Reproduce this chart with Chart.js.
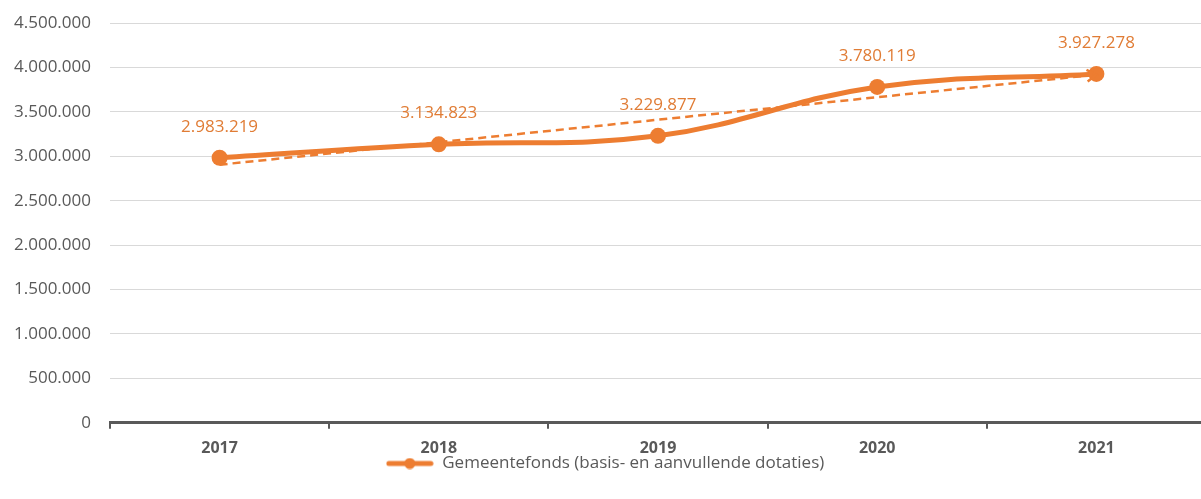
<!DOCTYPE html>
<html>
<head>
<meta charset="utf-8">
<script src="https://cdn.jsdelivr.net/npm/chart.js@4.4.1/dist/chart.umd.min.js"></script>
<style>
  html, body { margin: 0; padding: 0; background: #fff; overflow: hidden; }
  #wrap { position: relative; width: 1214px; height: 499px; }
</style>
</head>
<body>
<div id="wrap"><canvas id="myChart"></canvas></div>
<script>
// gegevens uit de grafiek
const jaren = ['2017', '2018', '2019', '2020', '2021'];
const gemeentefonds = [2983219, 3134823, 3229877, 3780119, 3927278];
const trendlijn = [2905000, null, null, null, 3918000];
const yTicks = [0, 500000, 1000000, 1500000, 2000000, 2500000, 3000000, 3500000, 4000000, 4500000];

const oranje = '#ED7D31';
const grijs = '#595959';
const lettertype = "'Open Sans', 'Liberation Sans', sans-serif";

function nlGetal(v) {
  return String(v).replace(/\B(?=(\d{3})+(?!\d))/g, '.');
}

// legenda-symbool: lijn met bolletje
const legendIcon = document.createElement('canvas');
legendIcon.width = 48; legendIcon.height = 12;
(function () {
  const c = legendIcon.getContext('2d');
  c.strokeStyle = oranje; c.lineWidth = 5; c.lineCap = 'round';
  c.beginPath(); c.moveTo(3, 6); c.lineTo(45, 6); c.stroke();
  c.fillStyle = oranje;
  c.beginPath(); c.arc(24, 6, 5.5, 0, Math.PI * 2); c.fill();
})();

// labels boven de punten + pijlpunt aan het eind van de trendlijn
const extraPlugin = {
  id: 'extra',
  afterLayout(chart) {
    // legenda iets dichter bij de as
    chart.legend.top -= 16;
    chart.legend.bottom -= 16;
  },
  afterDatasetsDraw(chart) {
    const ctx = chart.ctx;
    const meta = chart.getDatasetMeta(0);
    ctx.save();
    ctx.font = '17px ' + lettertype;
    ctx.fillStyle = '#E07C35';
    ctx.textAlign = 'center';
    ctx.textBaseline = 'middle';
    meta.data.forEach(function (pt, i) {
      ctx.fillText(nlGetal(gemeentefonds[i]), pt.x, pt.y - 31);
    });

    const tmeta = chart.getDatasetMeta(1);
    const a = tmeta.data[0], b = tmeta.data[tmeta.data.length - 1];
    const hoek = Math.atan2(b.y - a.y, b.x - a.x);
    const L = 11;
    ctx.strokeStyle = oranje;
    ctx.lineWidth = 2.5;
    ctx.beginPath();
    ctx.moveTo(b.x - L * Math.cos(hoek - 0.55), b.y - L * Math.sin(hoek - 0.55));
    ctx.lineTo(b.x, b.y);
    ctx.lineTo(b.x - L * Math.cos(hoek + 0.55), b.y - L * Math.sin(hoek + 0.55));
    ctx.stroke();
    ctx.restore();
  }
};

const ctx = document.getElementById('myChart');

var chart = new Chart(ctx, {
  type: 'line',
  data: {
    labels: jaren,
    datasets: [{
      label: 'Gemeentefonds (basis- en aanvullende dotaties)',
      data: gemeentefonds,
      borderColor: oranje,
      backgroundColor: oranje,
      borderWidth: 5,
      pointRadius: 8,
      pointBackgroundColor: oranje,
      pointBorderWidth: 0,
      tension: 0.4,
      fill: false,
      order: 1
    }, {
      label: 'trend',
      data: trendlijn,
      borderColor: oranje,
      borderWidth: 2.5,
      borderDash: [8, 5],
      pointRadius: 0,
      spanGaps: true,
      fill: false,
      order: 2
    }]
  },
  options: {
    responsive: true,
    maintainAspectRatio: false,
    animation: false,
    layout: { padding: { top: 23, right: 4, left: 0, bottom: 1 } },
    plugins: {
      tooltip: { enabled: false },
      legend: {
        position: 'bottom',
        labels: {
          usePointStyle: true,
          pointStyle: legendIcon,
          pointStyleWidth: 48,
          padding: 3,
          color: grijs,
          font: { family: lettertype, size: 17 },
          filter: function (item) { return item.datasetIndex === 0; },
          generateLabels: function (c) {
            return [{
              text: c.data.datasets[0].label,
              pointStyle: legendIcon,
              datasetIndex: 0,
              fontColor: grijs,
              lineWidth: 0,
              strokeStyle: 'transparent',
              fillStyle: 'transparent'
            }];
          }
        }
      }
    },
    scales: {
      x: {
        offset: true,
        grid: {
          offset: true,
          drawOnChartArea: false,
          drawTicks: true,
          tickLength: 6,
          color: grijs,
          lineWidth: 2
        },
        border: { display: true, color: grijs, width: 3 },
        ticks: {
          color: grijs,
          padding: 10,
          font: { family: lettertype, size: 16, weight: 'bold' }
        }
      },
      y: {
        min: 0,
        max: 4500000,
        afterFit: function (scale) {
          scale.width = 110;
          scale.paddingTop = 0;
          scale.paddingBottom = 0;
        },
        afterBuildTicks: function (scale) {
          scale.ticks = yTicks.map(function (v) { return { value: v }; });
        },
        grid: { color: '#D9D9D9', lineWidth: 1, drawTicks: false },
        border: { display: false },
        ticks: {
          color: grijs,
          padding: 19,
          font: { family: lettertype, size: 17 },
          callback: function (v) { return nlGetal(v); }
        }
      }
    }
  },
  plugins: [extraPlugin]
});
</script>
</body>
</html>
